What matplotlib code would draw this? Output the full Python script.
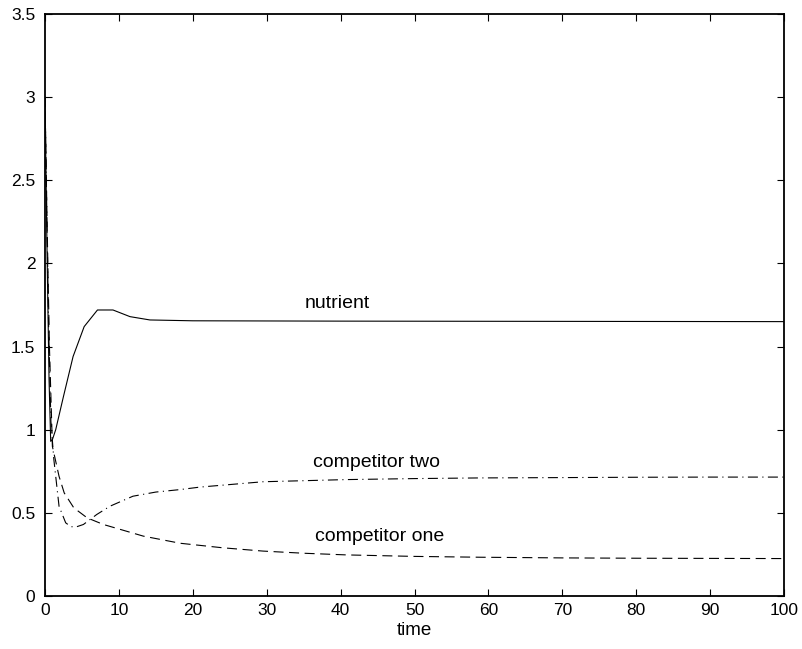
import numpy as np
import matplotlib
matplotlib.use('Agg')
import matplotlib.pyplot as plt

plt.rcParams['font.family'] = ['Liberation Sans', 'DejaVu Sans']

# values
t_nutrient = [0.0, 0.3, 0.55, 0.77, 1.0, 1.45, 2.5, 3.8, 5.3, 7.1, 9.2, 11.5, 14.2, 20, 40, 60, 80, 100]
nutrient = [3.0, 2.0, 1.3, 0.93, 0.94, 1.0, 1.2, 1.44, 1.62, 1.72, 1.72, 1.68, 1.66, 1.655, 1.653, 1.652, 1.651, 1.65]

t_one = [0.0, 0.3, 0.6, 1.0, 1.9, 2.6, 3.9, 5.7, 7.9, 13.3, 18.3, 24, 29.5, 35, 40.8, 50, 58.9, 70, 80, 90, 100]
comp_one = [3.0, 2.2, 1.5, 0.90, 0.72, 0.62, 0.53, 0.47, 0.43, 0.36, 0.317, 0.29, 0.27, 0.257, 0.247, 0.238, 0.233, 0.229, 0.227, 0.226, 0.225]

t_two = [0.0, 0.25, 0.5, 0.8, 1.2, 1.9, 2.8, 3.5, 4.2, 5.2, 7.0, 8.8, 11.9, 15, 18.3, 21, 29.5, 40.8, 50, 58.9, 70, 80, 90, 100]
comp_two = [3.0, 2.3, 1.6, 1.05, 0.82, 0.54, 0.44, 0.417, 0.415, 0.43, 0.49, 0.54, 0.60, 0.625, 0.64, 0.655, 0.687, 0.70, 0.706, 0.71, 0.712, 0.714, 0.715, 0.715]

labels = ['nutrient', 'competitor two', 'competitor one']
label_x = [39.6, 44.9, 45.3]
label_y = [1.76, 0.80, 0.36]

fig = plt.figure(figsize=(8.02, 6.49), dpi=100)
ax = fig.add_axes([0.0561, 0.0817, 0.9215, 0.8967])

ax.plot(t_nutrient, nutrient, color='black', linewidth=0.8)
ax.plot(t_one, comp_one, color='black', linewidth=0.8, linestyle=(0, (9, 5)))
ax.plot(t_two, comp_two, color='black', linewidth=0.8, linestyle=(0, (9, 4, 1, 4)))

for lab, x, y in zip(labels, label_x, label_y):
    ax.text(x, y, lab, ha='center', va='center', fontsize=14)

ax.set_xlim(0, 100)
ax.set_ylim(0, 3.5)
ax.set_xticks(np.arange(0, 101, 10))
ax.set_yticks(np.arange(0, 3.51, 0.5))
ax.set_yticklabels(['0', '0.5', '1', '1.5', '2', '2.5', '3', '3.5'])
ax.tick_params(direction='in', top=True, right=True, length=5, width=0.8, labelsize=12.5)
ax.tick_params(axis='x', pad=5)
ax.tick_params(axis='y', pad=7)
for s in ax.spines.values():
    s.set_linewidth(1.3)
ax.set_xlabel('time', fontsize=13.5, labelpad=3)

fig.savefig('out.png', dpi=100)
